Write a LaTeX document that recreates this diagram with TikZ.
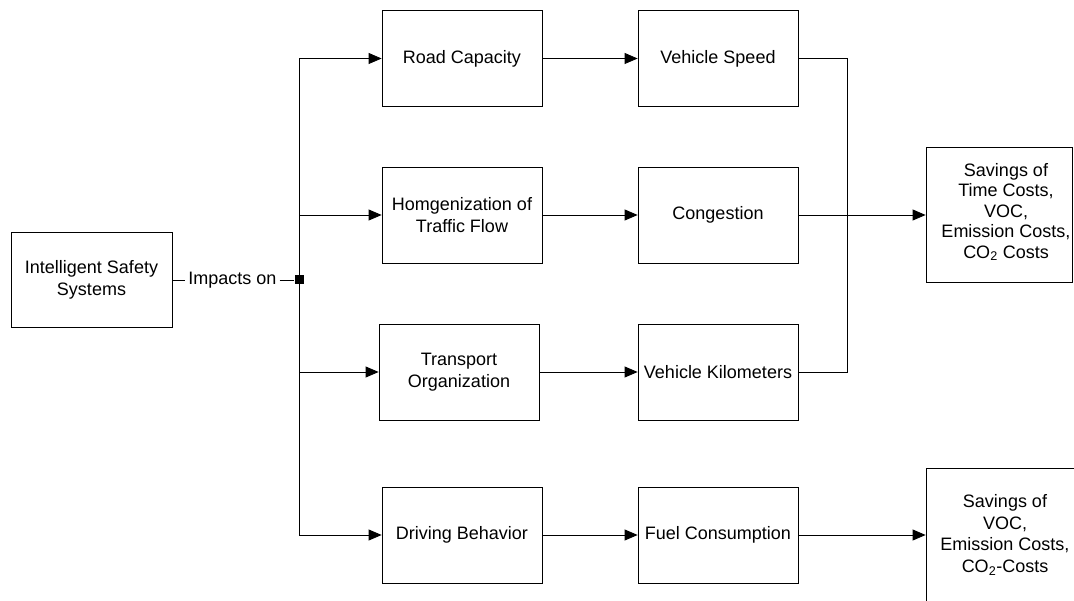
\documentclass[tikz,border=0pt]{standalone}
\usepackage{fontspec}
\setmainfont{Liberation Sans}
\usetikzlibrary{arrows.meta}
\begin{document}
\begin{tikzpicture}[x=1pt,y=-1pt,
  box/.style={draw=black, line width=0.8pt, minimum width=160pt, minimum height=96pt, align=center, inner sep=0pt, font=\fontsize{18}{21.5}\selectfont},
  txt/.style={align=center, inner sep=0pt, font=\fontsize{18}{21.5}\selectfont},
  conn/.style={line width=0.8pt},
  arr/.style={conn, -{Triangle[length=13pt,width=11pt]}}
]
\useasboundingbox (0,0) rectangle (1074,601);
% left
\node[box, minimum width=161pt, minimum height=95pt] (iss) at (91.5,280) {Intelligent Safety\\Systems};
\node[txt, inner xsep=3pt] (imp) at (232.5,280) {Impacts on};
\node[fill=black, minimum size=9pt, inner sep=0pt] (j) at (299,280) {};
\draw[conn] (iss.east) -- (imp.west);
\draw[conn] (imp.east) -- (j.west);
% column 1
\node[box] (rc) at (462,58.5) {Road Capacity};
\node[box] (hf) at (462,215) {Homgenization of\\Traffic Flow};
\node[box] (to) at (459,372) {Transport\\Organization};
\node[box] (db) at (462,535) {Driving Behavior};
% column 2
\node[box] (vs) at (718,58.5) {Vehicle Speed};
\node[box] (cg) at (718,215) {Congestion};
\node[box] (vk) at (718,372) {Vehicle Kilometers};
\node[box] (fc) at (718,535) {Fuel Consumption};
% savings boxes
\node[draw=black, line width=0.8pt, minimum width=146.5pt, minimum height=135pt, inner sep=0pt] (s1) at (999.25,215) {};
\node[txt, font=\fontsize{18}{20.5}\selectfont] (s1t) at (1006,212) {Savings of\\Time Costs,\\VOC,\\Emission Costs,\\CO\textsubscript{2} Costs};
\node[draw=black, line width=0.8pt, minimum width=164pt, minimum height=142pt, inner sep=0pt] (s2) at (1008,539) {};
\node[txt] (s2t) at (1005,535) {Savings of\\VOC,\\Emission Costs,\\CO\textsubscript{2}-Costs};
% trunk
\coordinate (t1) at (299,58.5);
\coordinate (t2) at (299,215);
\coordinate (t3) at (299,372);
\coordinate (t4) at (299,535);
\draw[conn] (t1) -- (t4);
\draw[arr] (t1) -- (rc.west);
\draw[arr] (t2) -- (hf.west);
\draw[arr] (t3) -- (to.west);
\draw[arr] (t4) -- (db.west);
% column links
\draw[arr] (rc.east) -- (vs.west);
\draw[arr] (hf.east) -- (cg.west);
\draw[arr] (to.east) -- (vk.west);
\draw[arr] (db.east) -- (fc.west);
% right collector
\coordinate (r1) at (847,58.5);
\coordinate (r2) at (847,372);
\draw[conn] (vs.east) -- (r1) -- (r2) -- (vk.east);
\draw[arr] (cg.east) -- (s1.west);
\draw[arr] (fc.east) -- (fc.east -| s2.west);
\end{tikzpicture}
\end{document}
